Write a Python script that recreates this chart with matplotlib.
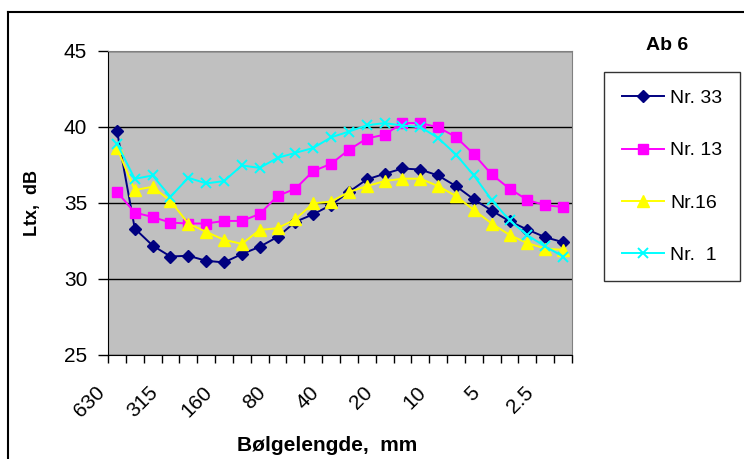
import matplotlib
matplotlib.use("Agg")
import matplotlib.pyplot as plt
from matplotlib.lines import Line2D
from matplotlib.transforms import ScaledTranslation

plt.rcParams['font.family'] = ['Liberation Sans', 'DejaVu Sans']

# 1/3-octave wavelength bands, mm
bands = ['630', '500', '400', '315', '250', '200', '160', '125', '100', '80',
         '63', '50', '40', '31.5', '25', '20', '16', '12.5', '10', '8',
         '6.3', '5', '4', '3.15', '2.5', '2']

nr33 = [39.76, 33.32, 32.2, 31.48, 31.53, 31.2, 31.09, 31.64, 32.12, 32.77,
        33.76, 34.26, 34.87, 35.73, 36.55, 36.92, 37.27, 37.2, 36.81, 36.11,
        35.24, 34.5, 33.8, 33.25, 32.75, 32.42]
nr13 = [35.74, 34.37, 34.08, 33.71, 33.65, 33.65, 33.82, 33.82, 34.28, 35.46,
        35.94, 37.1, 37.58, 38.5, 39.24, 39.5, 40.26, 40.26, 39.98, 39.34,
        38.21, 36.88, 35.94, 35.2, 34.85, 34.74]
nr16 = [38.62, 35.85, 36.07, 35.13, 33.65, 33.1, 32.58, 32.31, 33.23, 33.34,
        33.93, 34.98, 35.09, 35.72, 36.11, 36.44, 36.6, 36.6, 36.11, 35.46,
        34.54, 33.65, 32.9, 32.36, 32.0, 31.92]
nr1 = [38.91, 36.59, 36.81, 35.41, 36.66, 36.29, 36.44, 37.47, 37.31, 37.97,
       38.3, 38.62, 39.32, 39.7, 40.11, 40.26, 40.09, 40.0, 39.28, 38.19,
       36.81, 35.2, 33.86, 32.88, 32.14, 31.48]

fig = plt.figure(figsize=(7.44, 4.59), dpi=100)
ax = fig.add_axes([108 / 744, 1 - 355 / 459, 464 / 744, 304 / 459])
ax.set_facecolor('#C0C0C0')

x = list(range(len(bands)))
ax.plot(x, nr33, color='#000080', marker='D', ms=6, lw=1.4, label='Nr. 33')
ax.plot(x, nr13, color='#FF00FF', marker='s', ms=6.5, lw=1.4, label='Nr. 13')
ax.plot(x, nr16, color='#FFFF00', marker='^', ms=8, lw=1.4, label='Nr.16')
ax.plot(x, nr1, color='#00FFFF', marker='x', ms=7, mew=1.4, lw=1.4, label='Nr.  1')

ax.set_xlim(-0.5, len(bands) - 0.5)
ax.set_ylim(25, 45)
ax.set_yticks([25, 30, 35, 40, 45])
ax.grid(axis='y', color='black', lw=1)
ax.set_axisbelow(True)

ax.set_xticks(x[::3])
ax.set_xticklabels(bands[::3], rotation=45, ha='right', va='center',
                   rotation_mode='anchor', fontsize=15)
ax.set_xticks([i - 0.5 for i in range(len(bands) + 1)], minor=True)
ax.tick_params(axis='x', which='major', length=0, pad=14)
ax.tick_params(axis='x', which='minor', length=6, width=1)
ax.tick_params(axis='y', length=7, width=1, labelsize=15, pad=8)

shift = ScaledTranslation(-0.15, -0.15, fig.dpi_scale_trans)
for lab in ax.get_xticklabels():
    lab.set_transform(lab.get_transform() + shift)

for s in ['top', 'right']:
    ax.spines[s].set_color('#808080')
for s in ['left', 'bottom']:
    ax.spines[s].set_color('black')

ax.set_ylabel('Ltx,  dB', fontsize=13, fontweight='bold')
ax.yaxis.set_label_coords(-0.145, 0.5)
ax.set_xlabel('Bølgelengde,  mm', fontsize=15, fontweight='bold')
ax.xaxis.set_label_coords(0.472, -0.265)

fig.text(667 / 744, 1 - 45 / 459, 'Ab 6', fontsize=14, fontweight='bold',
         ha='center', va='center')

leg = fig.legend(loc='upper left', bbox_to_anchor=(604 / 744, 1 - 72 / 459),
                 fontsize=14, frameon=True, fancybox=False, edgecolor='black',
                 handlelength=2.2, labelspacing=1.78, borderpad=0.9,
                 handletextpad=0.3, borderaxespad=0)
leg.get_frame().set_linewidth(1)

# outer chart frame (cropped at right and bottom)
fig.add_artist(Line2D([8 / 744, 8 / 744], [0, 1 - 12 / 459], color='black', lw=1.5))
fig.add_artist(Line2D([8 / 744, 1], [1 - 12 / 459, 1 - 12 / 459], color='black', lw=1.5))

fig.savefig('out.png', dpi=100)
